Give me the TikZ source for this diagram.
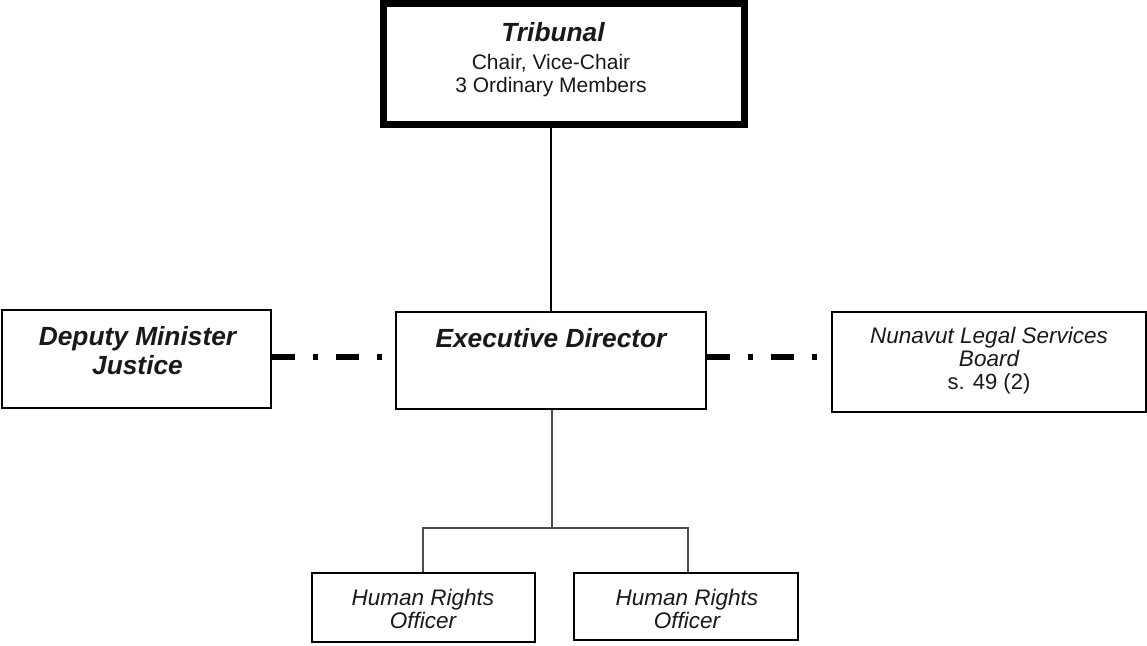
\documentclass[tikz,border=0pt]{standalone}
\usepackage{fontspec}
\setmainfont{Liberation Sans}
\begin{document}
\begin{tikzpicture}[x=1pt,y=-1pt,
  box/.style={draw=black,line width=1.4pt,fill=white,rectangle,inner sep=0pt},
  txt/.style={anchor=base,inner sep=0pt,text=black!90},
  big/.style={txt,font=\fontsize{26.3}{30}\selectfont\bfseries\itshape},
  ital/.style={txt,font=\fontsize{22.5}{26}\selectfont\itshape},
  reg/.style={txt,font=\fontsize{21}{25}\selectfont},
  tree/.style={draw=black!70,line width=1.3pt},
  dashdot/.style={draw=black,line width=5.5pt,line cap=butt,dash pattern=on 23pt off 18pt on 5pt off 18pt}]
\useasboundingbox (0,0) rectangle (1147,645);
% boxes
\node[box,line width=7pt,minimum width=361pt,minimum height=121pt] (tri) at (564,64) {};
\node[box,minimum width=269pt,minimum height=98pt] (dep) at (136.5,359) {};
\node[box,minimum width=310pt,minimum height=97pt] (exe) at (551,360.5) {};
\node[box,minimum width=314pt,minimum height=100pt] (nun) at (989,362) {};
\node[box,minimum width=223pt,minimum height=69pt] (hr1) at (423.5,607.5) {};
\node[box,minimum width=224pt,minimum height=67pt] (hr2) at (686,606.5) {};
% texts
\node[big] (t1) at (553,41) {Tribunal};
\node[reg] (t2) at (551,69) {Chair, Vice-Chair};
\node[reg] (t3) at (551,92) {3 Ordinary Members};
\node[big] (d1) at (137.5,345) {Deputy Minister};
\node[big] (d2) at (137.5,374) {Justice};
\node[big] (e1) at (551,347) {Executive Director};
\node[ital] (n1) at (989,343) {Nunavut Legal Services};
\node[ital] (n2) at (989,366) {Board};
\node[reg,font=\fontsize{22}{26}\selectfont] (n3) at (989,389) {s. 49 (2)};
\node[ital] (h1) at (423,605) {Human Rights};
\node[ital] (h2) at (423,628) {Officer};
\node[ital] (h3) at (687,605) {Human Rights};
\node[ital] (h4) at (687,628) {Officer};
% connectors
\draw[line width=1.3pt] (exe.north |- tri.south) -- (exe.north);
\coordinate (bar) at (552,528);
\draw[tree] (exe.south -| bar) -- (bar);
\draw[tree] (hr1.north -| 423,0) |- (bar) -| (hr2.north -| 688,0);
\draw[dashdot] (dep.east |- 0,357) -- (exe.west |- 0,357);
\draw[dashdot] (exe.east |- 0,357) -- (nun.west |- 0,357);
\end{tikzpicture}
\end{document}
